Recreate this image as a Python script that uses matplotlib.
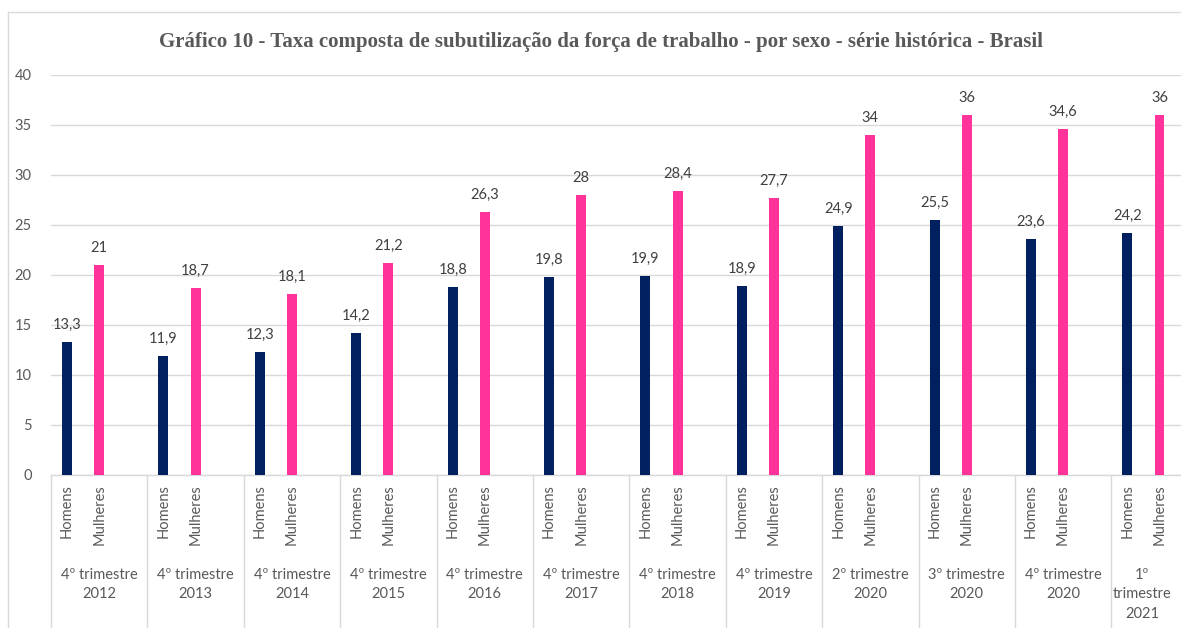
import matplotlib
matplotlib.use("Agg")
import matplotlib.pyplot as plt
from matplotlib.lines import Line2D

plt.rcParams['font.family'] = ['Lato', 'DejaVu Sans']

# dados
periodos = ["4º trimestre\n2012", "4º trimestre\n2013", "4º trimestre\n2014",
            "4º trimestre\n2015", "4º trimestre\n2016", "4º trimestre\n2017",
            "4º trimestre\n2018", "4º trimestre\n2019", "2º trimestre\n2020",
            "3º trimestre\n2020", "4º trimestre\n2020", "1º\ntrimestre\n2021"]
homens = [13.3, 11.9, 12.3, 14.2, 18.8, 19.8, 19.9, 18.9, 24.9, 25.5, 23.6, 24.2]
mulheres = [21, 18.7, 18.1, 21.2, 26.3, 28, 28.4, 27.7, 34, 36, 34.6, 36]
sexos = ["Homens", "Mulheres"]

titulo = ("Gráfico 10 - Taxa composta de subutilização da força de trabalho - "
          "por sexo - série histórica - Brasil")

cor_h = "#002060"
cor_m = "#FF3399"
cinza = "#D9D9D9"
txt = "#595959"

W, H = 1181, 628
fig = plt.figure(figsize=(W / 100, H / 100), dpi=100)

# area do grafico em pixels (a direita sai um pouco fora da imagem)
x0, x1 = 51, 1207.7
y0, y1 = 475, 75
ax = fig.add_axes([x0 / W, (H - y0) / H, (x1 - x0) / W, (y0 - y1) / H])

n = len(periodos)
pos_h = [3 * i + 0.5 for i in range(n)]
pos_m = [3 * i + 1.5 for i in range(n)]
larg = 0.31

ax.bar(pos_h, homens, width=larg, color=cor_h, zorder=3)
ax.bar(pos_m, mulheres, width=larg, color=cor_m, zorder=3)

def fmt(v):
    return f"{v:g}".replace(".", ",")

for xs, vs in ((pos_h, homens), (pos_m, mulheres)):
    for x, v in zip(xs, vs):
        ax.annotate(fmt(v), (x, v), xytext=(0, 7), textcoords="offset points",
                    ha="center", va="bottom", fontsize=10.5, color="#404040")

ax.set_xlim(0, 3 * n)
ax.set_ylim(0, 40)
ax.set_yticks(range(0, 41, 5))
ax.set_xticks([])
ax.tick_params(axis="y", length=0, pad=14, labelsize=10.5, labelcolor=txt)
ax.grid(axis="y", color=cinza, linewidth=1, zorder=0)
for s in ("top", "right", "left"):
    ax.spines[s].set_visible(False)
ax.spines["bottom"].set_color(cinza)
ax.spines["bottom"].set_linewidth(1)

tr = ax.get_xaxis_transform()
def fy(py):
    return (y0 - py) / (y0 - y1)

# rotulos do eixo x em dois niveis
for i in range(n):
    for x, s in ((pos_h[i], sexos[0]), (pos_m[i], sexos[1])):
        ax.text(x, fy(484), s, transform=tr, rotation=90, ha="center", va="top",
                fontsize=10.5, color=txt)
    xc = 3 * i + 1.5
    if i == n - 1:
        # o ultimo grupo fica cortado na borda; o texto centra na parte visivel
        xc = 3 * i + 0.95
    ax.text(xc, fy(568), periodos[i], transform=tr, ha="center", va="top",
            fontsize=10.5, color=txt, linespacing=1.5, multialignment="center")
for i in range(n + 1):
    ax.add_line(Line2D([3 * i, 3 * i], [0, fy(628)], transform=tr, color=cinza,
                       linewidth=1, clip_on=False))

# moldura do grafico
fig.add_artist(Line2D([8 / W, 8 / W], [0, (H - 12) / H], color=cinza, linewidth=1))
fig.add_artist(Line2D([8 / W, 1], [(H - 12) / H, (H - 12) / H], color=cinza, linewidth=1))

fig.text(601 / W, (H - 42) / H, titulo, ha="center", va="center",
         family="Liberation Serif", fontweight="bold", fontsize=15, color=txt)

fig.savefig("out.png", dpi=100)
